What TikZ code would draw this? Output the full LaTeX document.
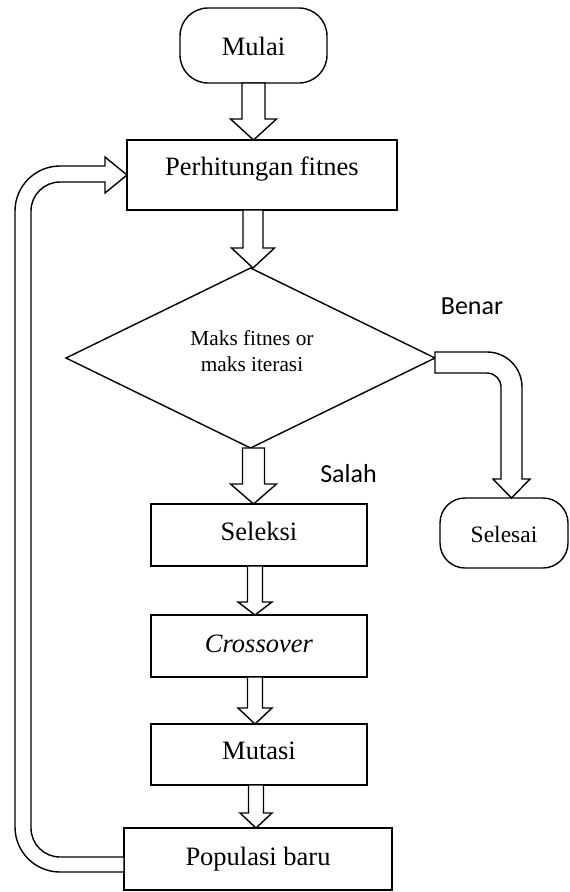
\documentclass[tikz,border=0pt]{standalone}
\usepackage{fontspec}
\setmainfont{Liberation Serif}
\newfontfamily\calib{Carlito}
\usetikzlibrary{shapes.geometric,calc}
\newcommand\barrow[5]{\draw[blk] let \p1=(#1), \p2=(#2) in
  (\x1-#3,\y1) -- (\x1-#3,\y2+#5) -- (\x1-#4,\y2+#5) -- (\x1,\y2) --
  (\x1+#4,\y2+#5) -- (\x1+#3,\y2+#5) -- (\x1+#3,\y1) -- cycle;}
\begin{document}
\begin{tikzpicture}[x=1pt,y=-1pt,line width=1.4pt,
  box/.style={draw,rectangle,inner sep=0pt,outer sep=0pt,anchor=north west,
    font=\fontsize{26.5}{30}\selectfont},
  term/.style={box,rounded corners=28pt},
  blk/.style={draw,fill=white,line join=miter},
  lbl/.style={font=\calib\fontsize{26}{30}\selectfont,anchor=base,inner sep=0pt}]
\path[use as bounding box] (0,0) rectangle (570,892);

\node[term,minimum width=147pt,text height=47pt,text depth=28pt] (mulai) at (180,8) {Mulai};
\node[box,minimum width=270pt,text height=35pt,text depth=35pt] (perh) at (127,140) {Perhitungan fitnes};
\node[draw,diamond,minimum width=369pt,minimum height=180pt,inner sep=0pt,outer sep=0pt] (dec) at (250.5,358) {};
\node[font=\fontsize{21.3}{26}\selectfont,align=center,inner sep=0pt] (dectext) at (252,351) {Maks fitnes or\\maks iterasi};
\node[box,minimum width=216pt,text height=36pt,text depth=26pt] (sel) at (151,504) {Seleksi};
\node[box,minimum width=216pt,text height=37pt,text depth=25pt] (cross) at (151,615) {\textit{Crossover}};
\node[box,minimum width=216pt,text height=35pt,text depth=26pt] (mut) at (151,724) {Mutasi};
\node[box,minimum width=268pt,text height=37pt,text depth=25pt] (pop) at (124,828) {Populasi baru};
\node[term,rounded corners=25pt,minimum width=128pt,text height=44pt,text depth=26pt,
  font=\fontsize{23.5}{28}\selectfont] (sels) at (440,498) {Selesai};

\node[lbl] (benar) at (472,314) {Benar};
\node[lbl] (salah) at (348.5,482) {Salah};

\barrow{mulai.south}{perh.north}{11.5pt}{23pt}{21pt}
\barrow{$(perh.south)+(-9,0)$}{dec.north}{10pt}{21.5pt}{20pt}
\barrow{$(dec.south)+(3,0)$}{sel.north}{11pt}{23pt}{20pt}
\barrow{$(sel.south)+(-4,0)$}{cross.north}{7.5pt}{17pt}{13pt}
\barrow{$(cross.south)+(-4,0)$}{mut.north}{7.5pt}{17pt}{16pt}
\barrow{$(mut.south)+(-3,0)$}{pop.north}{7.5pt}{16pt}{15pt}

\draw[blk] let \p1=(dec.east), \p2=(sels.north) in
  (\x1,\y1+6pt) -- (487pt,\y1+6pt) arc[start angle=90,end angle=0,radius=35pt]
  -- (522pt,\y2+19pt) -- (530pt,\y2+19pt) -- (511.5pt,\y2) -- (493pt,\y2+19pt)
  -- (501pt,\y2+19pt) -- (501pt,\y1-29pt) arc[start angle=0,end angle=90,radius=14pt]
  -- (\x1,\y1-15pt) -- cycle;

\draw[blk] let \p1=(pop.west), \p2=(perh.west) in
  (\x1,\y1-13pt) -- (60pt,\y1-13pt) arc[start angle=270,end angle=180,radius=45pt]
  -- (15pt,\y2+9pt-45pt) arc[start angle=180,end angle=90,radius=45pt]
  -- (\x2-22pt,\y2+9pt) -- (\x2-22pt,\y2+18pt) -- (\x2,\y2) -- (\x2-22pt,\y2-18pt)
  -- (\x2-22pt,\y2-7pt) -- (60pt,\y2-7pt) arc[start angle=90,end angle=180,radius=29pt]
  -- (31pt,\y1+2pt+29pt) arc[start angle=180,end angle=270,radius=29pt]
  -- (\x1,\y1+2pt) -- cycle;
\end{tikzpicture}
\end{document}
